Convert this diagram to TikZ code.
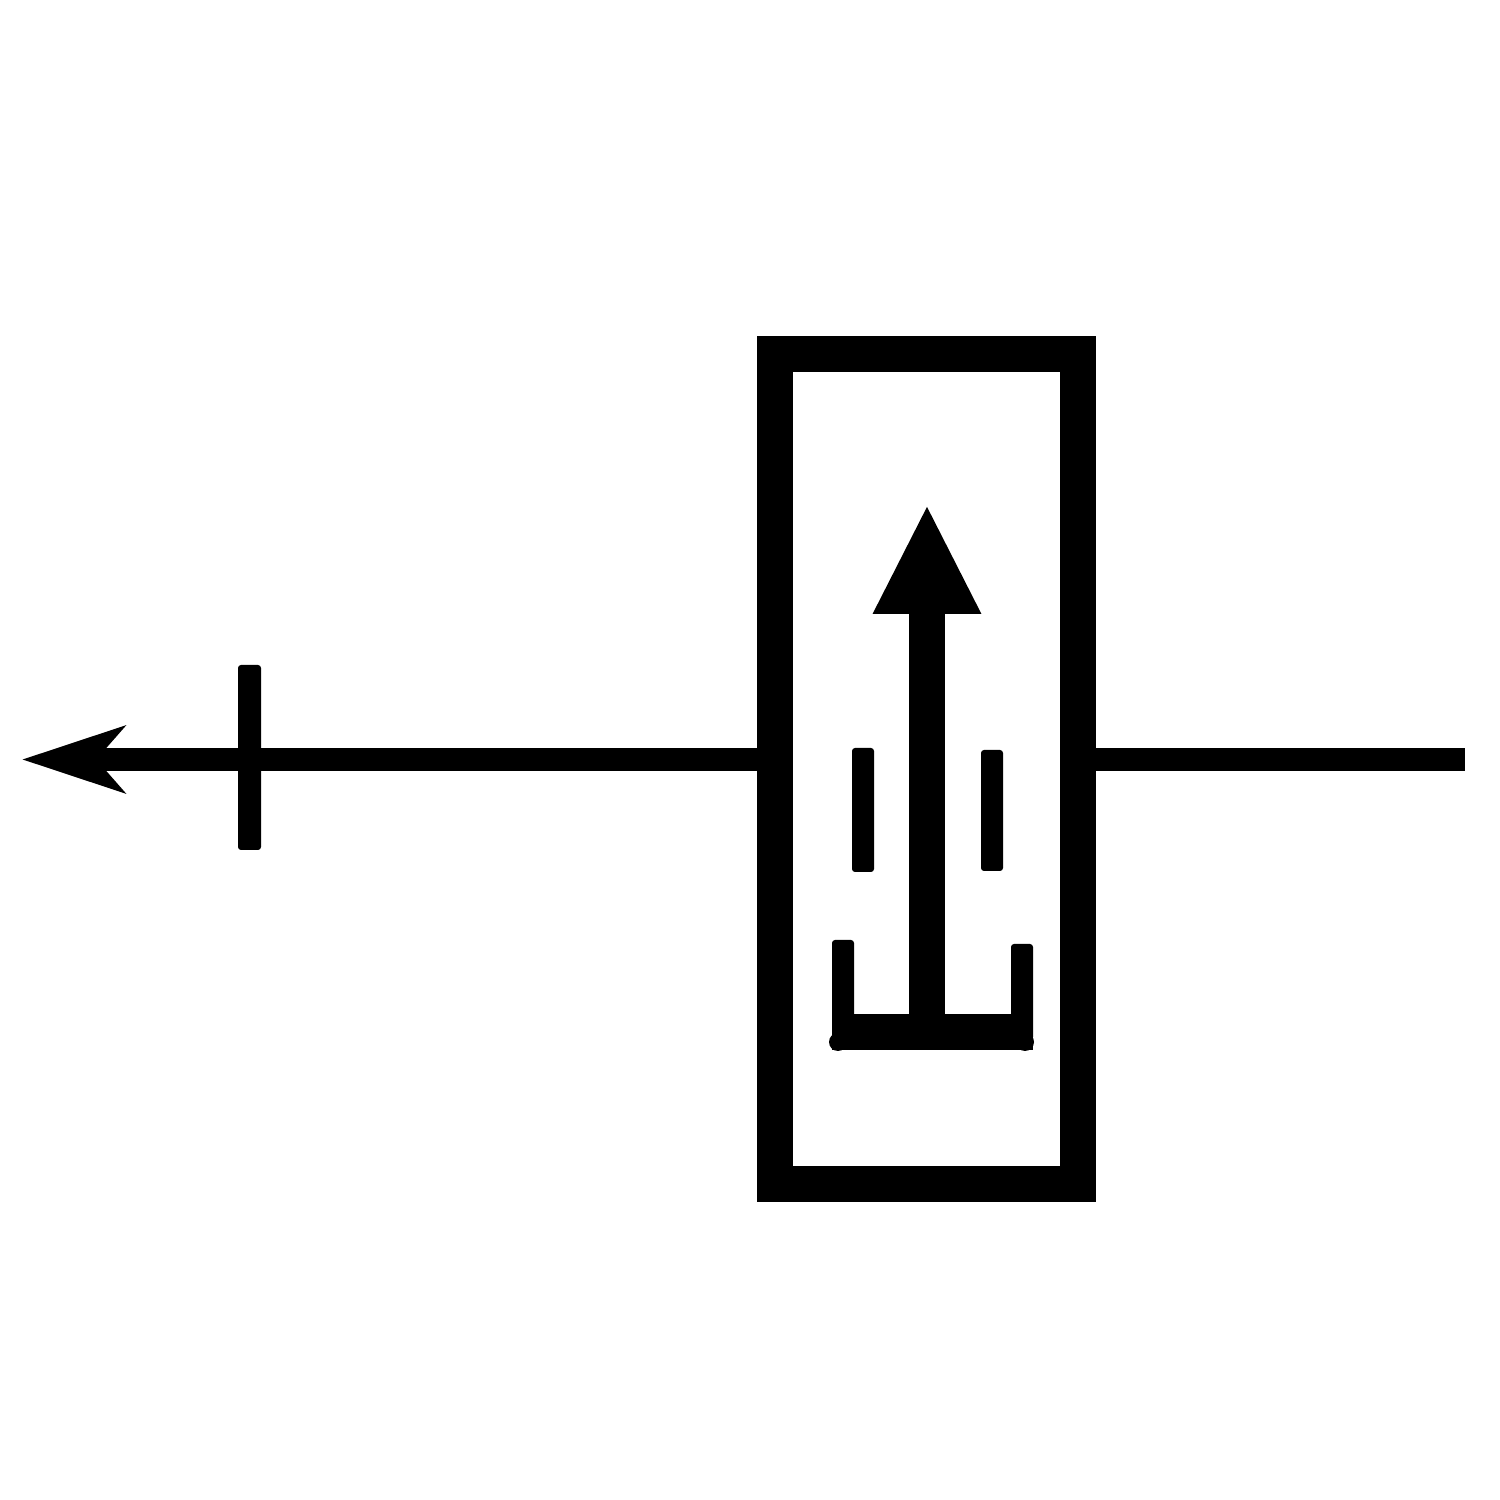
\documentclass[tikz,border=0pt]{standalone}
\usetikzlibrary{arrows.meta}
\begin{document}
\begin{tikzpicture}[>=Stealth]
\tikzstyle{every node}=[inner sep=0pt,outer sep=0pt,fill=black,rounded corners=0.03cm]
\tikzstyle{wire}=[line width=0.23cm]
\useasboundingbox (0,0) rectangle (15,15);
\node[rectangle,draw,fill=white,sharp corners,line width=0.36cm,outer sep=0.18cm,minimum width=3.03cm,minimum height=8.30cm](box) at (9.265,7.31) {};
\coordinate (lefttip) at (0.22,7.405);
\coordinate (rightend) at (14.65,7.405);
\node[rectangle,minimum width=0.23cm,minimum height=1.85cm](tick) at (2.495,7.425) {};
\node[rectangle,minimum width=0.22cm,minimum height=1.24cm](barl) at (8.63,6.9) {};
\node[rectangle,minimum width=0.22cm,minimum height=1.21cm](barr) at (9.92,6.895) {};
\node[rectangle,sharp corners,minimum width=2.01cm,minimum height=0.36cm](base) at (9.325,4.68) {};
\node[rectangle,minimum width=0.22cm,minimum height=1.00cm](cupl) at (8.43,5.10) {};
\node[rectangle,minimum width=0.22cm,minimum height=0.96cm](cupr) at (10.22,5.08) {};
\node[circle,minimum size=0.18cm](dotl) at (8.38,4.58) {};
\node[circle,minimum size=0.18cm](dotr) at (10.25,4.58) {};
\coordinate (uptip) at (9.27,9.96);
\draw[wire,->,>={Stealth[length=1.02cm,width=0.66cm,inset=0.28cm]}] (lefttip -| box.west) -- (lefttip);
\draw[wire] (rightend -| box.east) -- (rightend);
\draw[line width=0.36cm,-{Triangle[length=1.10cm,width=1.00cm]}] (uptip |- base.north) -- (uptip);
\end{tikzpicture}
\end{document}
